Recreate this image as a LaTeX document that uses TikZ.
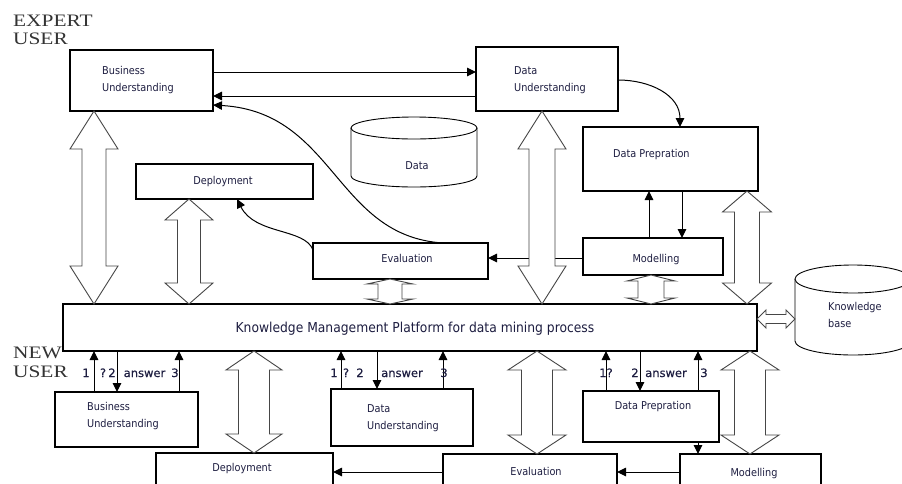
\documentclass[tikz,border=0pt]{standalone}
\usepackage{fontspec}
\setmainfont{Liberation Serif}
\newfontfamily\condfont{DejaVu Sans Condensed}
\newfontfamily\dvsfont[FakeBold=0.4,BoldFont={DejaVu Sans}]{DejaVu Sans}
\usetikzlibrary{arrows.meta,calc}
\definecolor{txtc}{RGB}{30,30,65}
\definecolor{holc}{RGB}{70,70,70}
\newcommand\hvarrow[5]{%
  \draw[hollow] (#1) -- ($(#1)+(#3,#5)$) -- ($(#1)+(#4,#5)$) -- ($(#2)+(#4,-#5)$) -- ($(#2)+(#3,-#5)$) -- (#2)
   -- ($(#2)+(-#3,-#5)$) -- ($(#2)+(-#4,-#5)$) -- ($(#1)+(-#4,#5)$) -- ($(#1)+(-#3,#5)$) -- cycle;}
\newcommand\hharrow[5]{%
  \draw[hollow] (#1) -- ($(#1)+(#5,-#3)$) -- ($(#1)+(#5,-#4)$) -- ($(#2)+(-#5,-#4)$) -- ($(#2)+(-#5,-#3)$) -- (#2)
   -- ($(#2)+(-#5,#3)$) -- ($(#2)+(-#5,#4)$) -- ($(#1)+(#5,#4)$) -- ($(#1)+(#5,#3)$) -- cycle;}
\tikzset{
  box/.style={draw, line width=1.3pt, inner sep=0pt, outer sep=0pt, rectangle, fill=white},
  lbl/.style={font=\condfont\fontsize{10.8}{17}\selectfont, text=txtc, inner sep=0pt, align=left},
  kmplbl/.style={font=\condfont\fontsize{13.7}{16}\selectfont, text=txtc, inner sep=0pt},
  qlbl/.style={font=\dvsfont\bfseries\fontsize{11.5}{14}\selectfont, text=txtc, inner sep=0pt, anchor=base},
  arr/.style={line width=1pt, -{Triangle[length=9pt,width=8.5pt]}},
  hollow/.style={draw=holc, line width=0.9pt, fill=white, line join=miter},
  cyl/.style={draw, line width=0.9pt, fill=white},
  usr/.style={font=\fontsize{17.5}{18}\selectfont, text=black!80, inner sep=0pt, anchor=base west},
}
\begin{document}
\begin{tikzpicture}[x=1pt,y=-1pt]
\path[use as bounding box, clip] (0,0) rectangle (902,483);
\fill[white] (0,0) rectangle (902,483);

% ---------- expert user part ----------
\node[usr] (expert) at (13,26) {\scalebox{1.22}[1]{EXPERT}};
\node[usr] (expertb) at (13,44) {\scalebox{1.22}[1]{USER}};

\node[box, minimum width=143pt, minimum height=61pt] (bu1) at (141.5,80.5) {};
\node[box, minimum width=142pt, minimum height=64pt] (du1) at (547,79) {};
\node[box, minimum width=177pt, minimum height=35pt] (dep1) at (224.5,181.5) {};
\node[box, minimum width=175pt, minimum height=64pt] (dp1) at (670.5,159) {};
\node[box, minimum width=140pt, minimum height=37pt] (mod1) at (653,256.5) {};
\node[box, minimum width=175pt, minimum height=36pt] (ev1) at (400.5,261) {};

\node[lbl, anchor=west] (bu1t) at (102,80) {Business\\Understanding};
\node[lbl, anchor=west] (du1t) at (514,80) {Data\\Understanding};
\node[lbl, anchor=base] (dep1t) at (223,184) {Deployment};
\node[lbl, anchor=base west] (dp1t) at (613,157) {Data Prepration};
\node[lbl, anchor=base] (mod1t) at (656,262) {Modelling};
\node[lbl, anchor=base] (ev1t) at (407,262) {Evaluation};

% Data cylinder
\draw[cyl] (351,128) -- (351,176) arc[start angle=180, end angle=360, x radius=63pt, y radius=11pt] -- (477,128);
\draw[cyl] (414,128) ellipse [x radius=63pt, y radius=11pt];
\node[lbl, anchor=base] (datat) at (417,169) {Data};

% thin connectors (top)
\draw[arr] (bu1.east |- 0,72) -- (du1.west |- 0,72);
\draw[arr] (du1.west |- 0,96) -- (bu1.east |- 0,96);
\draw[arr] (443,0 |- ev1.north) .. controls (335,236) and (335,112) .. (bu1.east |- 0,105);
\draw[arr] (du1.east |- 0,80) .. controls (650,80) and (680,95) .. (680,0 |- dp1.north);
\draw[arr] (649,0 |- mod1.north) -- (649,0 |- dp1.south);
\draw[arr] (682,0 |- dp1.south) -- (682,0 |- mod1.north);
\draw[arr] (mod1.west |- 0,258) -- (ev1.east |- 0,258);
\draw[arr] (ev1.west |- 0,250) .. controls (305,228) and (255,235) .. (237,0 |- dep1.south);

% ---------- platform ----------
\node[box, minimum width=694pt, minimum height=47pt] (kmp) at (410,327.5) {};
\node[kmplbl, anchor=base] (kmpt) at (415,332) {Knowledge Management Platform for data mining process};

% hollow arrows (top)
\hvarrow{94,0 |- bu1.south}{94,0 |- kmp.north}{24}{12}{38}
\hvarrow{189,0 |- dep1.south}{189,0 |- kmp.north}{24}{11.5}{21}
\hvarrow{390,0 |- ev1.south}{390,0 |- kmp.north}{23}{12}{5}
\hvarrow{542,0 |- du1.south}{542,0 |- kmp.north}{24}{13}{38}
\hvarrow{651,0 |- mod1.south}{651,0 |- kmp.north}{24}{13}{6}
\hvarrow{747,0 |- dp1.south}{747,0 |- kmp.north}{24.5}{12.5}{21}

% knowledge base
\draw[cyl] (795,279) -- (795,341) arc[start angle=180, end angle=360, x radius=58pt, y radius=14pt] -- (911,279);
\draw[cyl] (853,279) ellipse [x radius=58pt, y radius=14pt];
\node[lbl, anchor=west] (kbt) at (828,315) {Knowledge\\base};
\coordinate (kbw) at (795,319);
\hharrow{kmp.east |- kbw}{kbw}{9}{4.5}{9}

% ---------- new user part ----------
\node[box, minimum width=143pt, minimum height=55pt] (bu2) at (126.5,419.5) {};
\node[box, minimum width=142pt, minimum height=57pt] (du2) at (402,417.5) {};
\node[box, minimum width=136pt, minimum height=51pt] (dp2) at (651,416.5) {};
\node[box, minimum width=177pt, minimum height=47pt] (dep2) at (244.5,476.5) {};
\node[box, minimum width=174pt, minimum height=46pt] (ev2) at (530,477) {};
\node[box, minimum width=141pt, minimum height=46pt] (mod2) at (750.5,477) {};

\node[usr] (newu) at (13,358) {\scalebox{1.22}[1]{NEW}};
\node[usr] (newub) at (13,377) {\scalebox{1.22}[1]{USER}};

\node[lbl, anchor=west] (bu2t) at (87,416.5) {Business\\Understanding};
\node[lbl, anchor=west] (du2t) at (367,418.5) {Data\\Understanding};
\node[lbl, anchor=base] (dp2t) at (653,409) {Data Prepration};
\node[lbl, anchor=base] (dep2t) at (242,471) {Deployment};
\node[lbl, anchor=base] (ev2t) at (536,475) {Evaluation};
\node[lbl, anchor=base] (mod2t) at (754,476) {Modelling};

% question / answer arrows
\draw[arr] (94,0 |- bu2.north) -- (94,0 |- kmp.south);
\draw[arr] (117,0 |- kmp.south) -- (117,0 |- bu2.north);
\draw[arr] (179,0 |- bu2.north) -- (179,0 |- kmp.south);
\draw[arr] (341,0 |- du2.north) -- (341,0 |- kmp.south);
\draw[arr] (377,0 |- kmp.south) -- (377,0 |- du2.north);
\draw[arr] (443,0 |- du2.north) -- (443,0 |- kmp.south);
\draw[arr] (606,0 |- dp2.north) -- (606,0 |- kmp.south);
\draw[arr] (640,0 |- kmp.south) -- (640,0 |- dp2.north);
\draw[arr] (698,0 |- dp2.north) -- (698,0 |- kmp.south);

\node[qlbl] (q1) at (86,377) {1};
\node[qlbl] (q2) at (103,377) {?};
\node[qlbl] (q3) at (112,377) {2};
\node[qlbl] (q4) at (144.5,377) {answer};
\node[qlbl] (q5) at (175,377) {3};
\node[qlbl] (r1) at (334,377) {1};
\node[qlbl] (r2) at (346,377) {?};
\node[qlbl] (r3) at (360,377) {2};
\node[qlbl] (r4) at (402,377) {answer};
\node[qlbl] (r5) at (444,377) {3};
\node[qlbl] (s1) at (606,377) {1?};
\node[qlbl] (s3) at (635,377) {2};
\node[qlbl] (s4) at (666,377) {answer};
\node[qlbl] (s5) at (704,377) {3};

% bottom flow
\draw[arr] (698,0 |- dp2.south) -- (698,0 |- mod2.north);
\draw[arr] (mod2.west |- 0,472) -- (ev2.east |- 0,472);
\draw[arr] (ev2.west |- 0,472) -- (dep2.east |- 0,472);

% hollow arrows (bottom)
\hvarrow{254,0 |- kmp.south}{254,0 |- dep2.north}{28}{15.5}{19}
\hvarrow{537,0 |- kmp.south}{537,0 |- ev2.north}{29}{15.5}{19}
\hvarrow{750,0 |- kmp.south}{750,0 |- mod2.north}{29}{15.5}{19}
\end{tikzpicture}
\end{document}
